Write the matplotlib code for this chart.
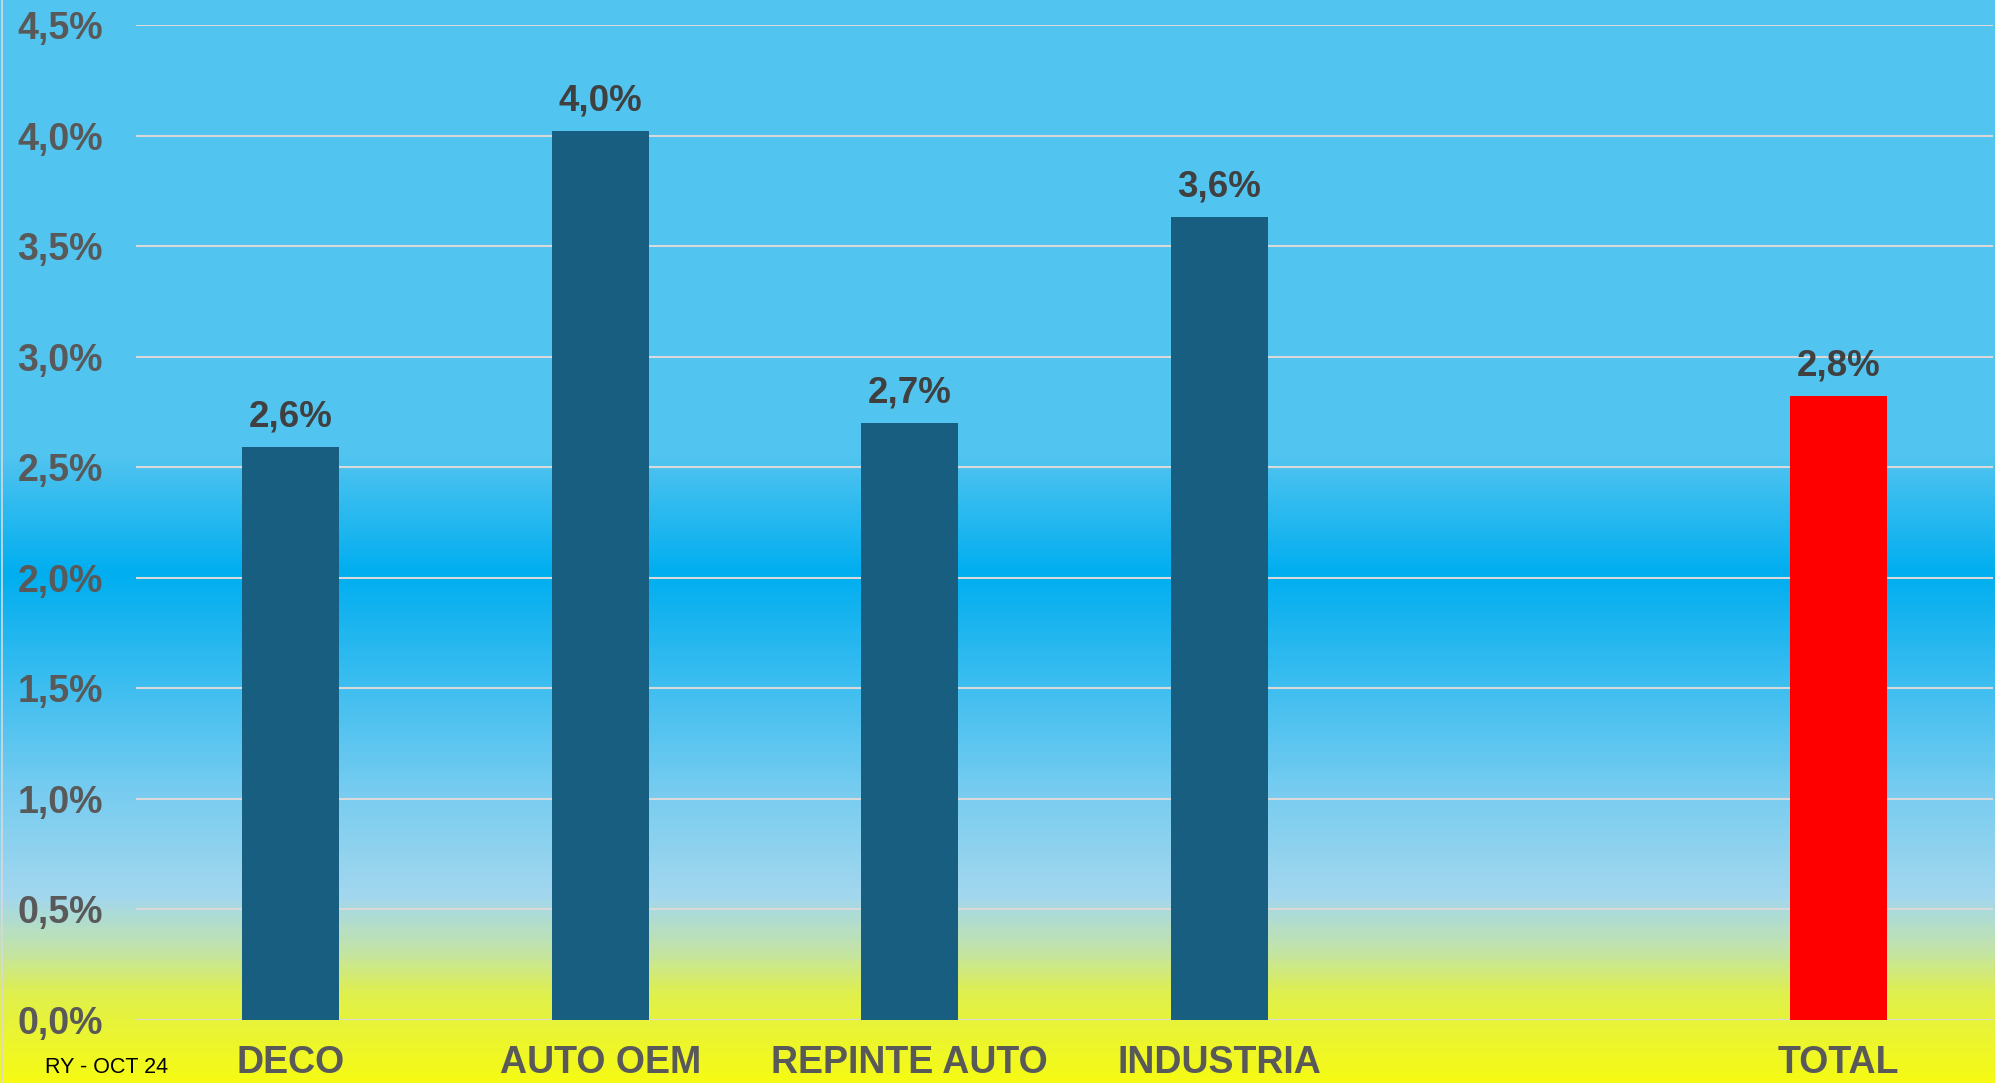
import matplotlib
matplotlib.use("Agg")
import matplotlib.pyplot as plt
import numpy as np
from matplotlib.colors import LinearSegmentedColormap
from matplotlib.lines import Line2D

categories = ["DECO", "AUTO OEM", "REPINTE AUTO", "INDUSTRIA", "", "TOTAL"]
values = [2.59, 4.02, 2.70, 3.63, None, 2.82]
labels = ["2,6%", "4,0%", "2,7%", "3,6%", "", "2,8%"]
bar_colors = ["#175E80", "#175E80", "#175E80", "#175E80", "#175E80", "#FF0000"]
yticks = [0.0, 0.5, 1.0, 1.5, 2.0, 2.5, 3.0, 3.5, 4.0, 4.5]
ytick_labels = ["0,0%", "0,5%", "1,0%", "1,5%", "2,0%", "2,5%", "3,0%", "3,5%", "4,0%", "4,5%"]
note = "RY - OCT 24"

W, H, DPI = 1995, 1083, 100
fig = plt.figure(figsize=(W / DPI, H / DPI), dpi=DPI)

# background gradient (top -> bottom)
bg = fig.add_axes([0, 0, 1, 1], zorder=0)
stops = [(0.0, "#52C4F0"), (0.42, "#52C4F0"), (0.53, "#00AEEF"),
         (0.73, "#76CCF0"), (0.83, "#A3D7EE"), (0.88, "#C3E4A8"),
         (0.92, "#E0F04C"), (1.0, "#F6FA14")]
cmap = LinearSegmentedColormap.from_list("bg", stops)
grad = np.linspace(0, 1, 1083).reshape(-1, 1)
bg.imshow(grad, aspect="auto", cmap=cmap, extent=[0, 1, 0, 1], origin="upper")
bg.set_axis_off()

fig.add_artist(Line2D([2 / W, 2 / W], [0, 1], color="#D9D9D9", lw=1.2, transform=fig.transFigure, zorder=1))

ax = fig.add_axes([136 / W, 1 - 1020 / H, (1993 - 136) / W, (1020 - 25) / H], zorder=2)
ax.set_facecolor("none")
ax.patch.set_alpha(0)

x = np.arange(len(categories))
for i, (v, c, lab) in enumerate(zip(values, bar_colors, labels)):
    if v is None:
        continue
    ax.bar(x[i], v, width=0.314, color=c, zorder=3)
    ax.annotate(lab, (x[i], v), xytext=(0, 15), textcoords="offset points",
                ha="center", va="baseline", fontsize=26.5, fontweight="bold",
                color="#404040", family="Liberation Sans", zorder=4)

ax.set_xlim(-0.5, len(categories) - 0.5)
ax.set_ylim(0, 4.5)
ax.set_yticks(yticks)
ax.set_yticklabels(ytick_labels)
ax.set_xticks(x)
ax.set_xticklabels(categories)
for t in ax.get_yticklabels() + ax.get_xticklabels():
    t.set_family("Liberation Sans")
    t.set_fontweight("bold")
    t.set_fontsize(27)
    t.set_color("#595959")
ax.tick_params(axis="y", length=0, pad=24)
ax.tick_params(axis="x", length=0, pad=18)
ax.grid(axis="y", color="#D9D9D9", lw=1.5, zorder=1)
ax.set_axisbelow(True)
for s in ax.spines.values():
    s.set_visible(False)

fig.text(45 / W, (H - 1073) / H, note, fontsize=15.5, color="black",
         family="Liberation Sans", ha="left", va="baseline")

fig.savefig("out.png", dpi=DPI)
